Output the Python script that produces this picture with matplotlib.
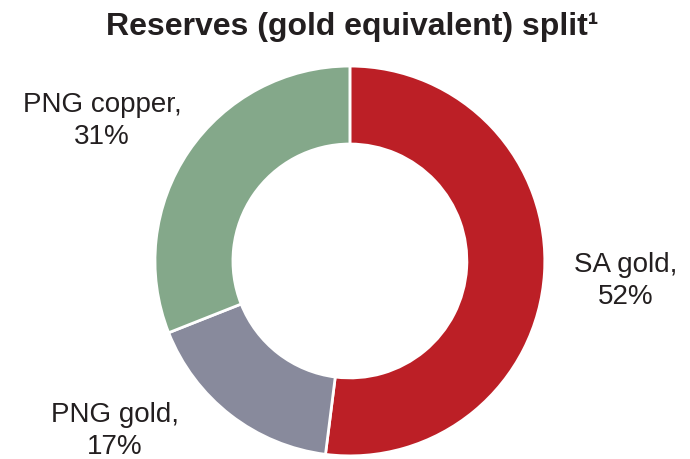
import matplotlib
matplotlib.use('Agg')
import matplotlib.pyplot as plt

plt.rcParams['font.family'] = ['Liberation Sans', 'DejaVu Sans']

segments = ['SA gold', 'PNG gold', 'PNG copper']
shares = [52, 17, 31]
colours = ['#BC1F26', '#888A9C', '#84A88A']

fig = plt.figure(figsize=(6.9, 4.6), dpi=100)
ax = fig.add_axes([0.2246, 0.0065, 0.565, 0.848])

ax.pie(shares, colors=colours, startangle=90, counterclock=False,
       radius=1.0, wedgeprops=dict(width=0.4, edgecolor='white', linewidth=2))
ax.set_xlim(-1, 1)
ax.set_ylim(-1, 1)
ax.set_aspect('equal')

# label positions beside each wedge
label_pos = {'SA gold': (1.415, -0.097),
             'PNG gold': (-1.205, -0.867),
             'PNG copper': (-1.272, 0.723)}
for name, share in zip(segments, shares):
    x, y = label_pos[name]
    ax.text(x, y, '%s,\n%d%%' % (name, share), ha='center', va='center',
            fontsize=20, color='#231F20', linespacing=1.3, clip_on=False)

fig.text(0.510, 0.924, 'Reserves (gold equivalent) split\u00b9', ha='center',
         va='baseline', fontsize=23, fontweight='bold', color='#231F20')

fig.savefig('out.png', dpi=100)
